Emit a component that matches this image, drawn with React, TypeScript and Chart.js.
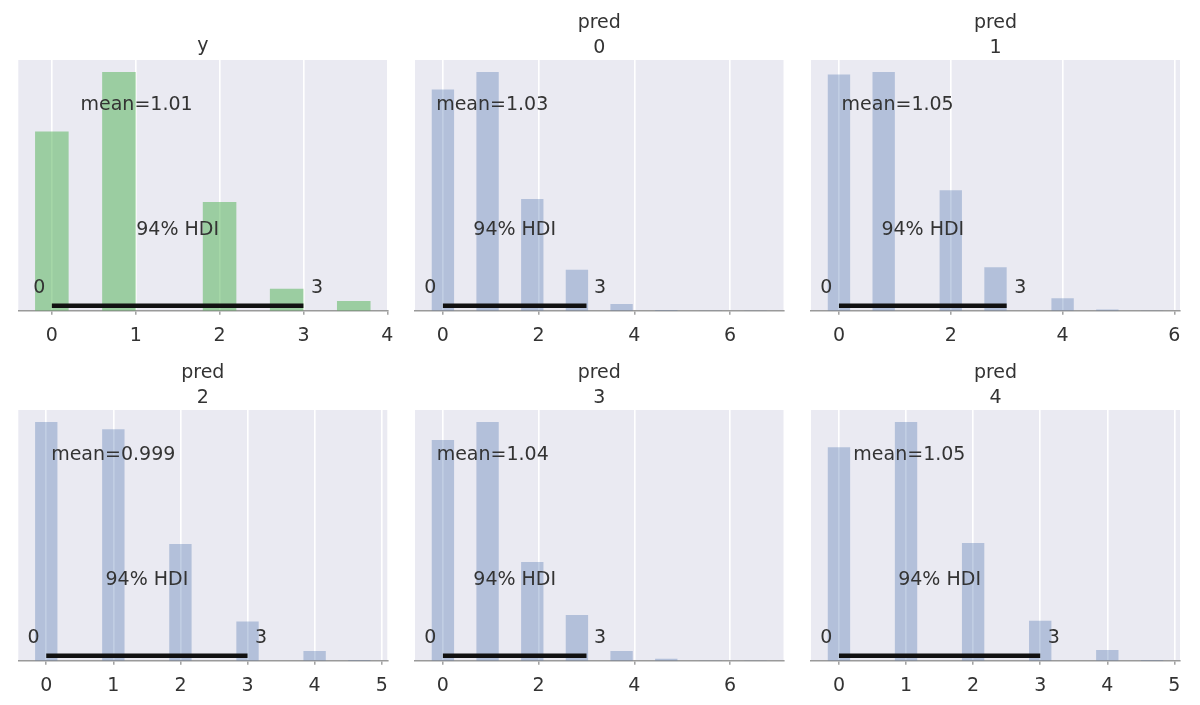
import React, { useEffect, useRef } from "react";
import { Chart, registerables } from "chart.js";

Chart.register(...registerables);

// ---------- data ----------
// bin positions (left edge of each populated histogram bin, drawn align="left") and relative heights
const yCenters = [0, 0.8, 2.0, 2.8, 3.6];
const yHeights = [0.751, 1.0, 0.455, 0.092, 0.041];
const yBinWidth = 0.4;

const pred0Centers = [0, 0.933, 1.867, 2.8, 3.733, 4.667, 5.6, 6.533];
const pred0Heights = [0.926, 1.0, 0.468, 0.171, 0.028, 0.003, 0.001, 0.0005];
const pred0BinWidth = 0.4667;

const pred1Centers = [0, 0.8, 2.0, 2.8, 4.0, 4.8, 5.6];
const pred1Heights = [0.989, 1.0, 0.505, 0.182, 0.052, 0.005, 0.001];
const pred1BinWidth = 0.4;

const pred2Centers = [0, 1, 2, 3, 4, 4.667];
const pred2Heights = [1.0, 0.969, 0.489, 0.164, 0.041, 0.003];
const pred2BinWidth = 0.3333;

const pred3Centers = [0, 0.933, 1.867, 2.8, 3.733, 4.667, 5.6, 6.533];
const pred3Heights = [0.924, 1.0, 0.413, 0.191, 0.041, 0.008, 0.001, 0.0005];
const pred3BinWidth = 0.4667;

const pred4Centers = [0, 1, 2, 3, 4, 4.667];
const pred4Heights = [0.894, 1.0, 0.493, 0.167, 0.045, 0.003];
const pred4BinWidth = 0.3333;

const titles = [["y"], ["pred", "0"], ["pred", "1"], ["pred", "2"], ["pred", "3"], ["pred", "4"]];
const meanValues = [1.01, 1.03, 1.05, 0.999, 1.04, 1.05];
const meanLabels = ["mean=1.01", "mean=1.03", "mean=1.05", "mean=0.999", "mean=1.04", "mean=1.05"];
const hdiLow = [0, 0, 0, 0, 0, 0];
const hdiHigh = [3, 3, 3, 3, 3, 3];
const hdiLabel = "94% HDI";
const tickSteps = [1, 2, 2, 1, 2, 1];

// ---------- style ----------
const FONT = '"DejaVu Sans", Verdana, sans-serif';
const TEXT_SIZE = 19;
const TEXT_COLOR = "#333333";
const BG = "#EAEAF2";
const AXIS_COLOR = "#9a9a9a";
const GREEN = "rgba(76,175,80,0.5)";
const BLUE = "rgba(76,114,176,0.35)";

// ---------- layout (page pixels) ----------
const colLeft = [0, 395, 795];
const colRight = [420, 820, 1200];
const areaLeft = [18.3, 415, 811];
const areaRight = [387.3, 783.5, 1180];
const rowTop = [0, 352];
const rowBottom = [352, 705];
const areaTop = [60, 410];
const areaBottom = [310.7, 660.7];
const AXIS_H = 36;

type Panel = {
  title: string[];
  centers: number[];
  heights: number[];
  binWidth: number;
  mean: number;
  meanLabel: string;
  hdi: number[];
  step: number;
  color: string;
};

const panels: Panel[] = [
  [yCenters, yHeights, yBinWidth],
  [pred0Centers, pred0Heights, pred0BinWidth],
  [pred1Centers, pred1Heights, pred1BinWidth],
  [pred2Centers, pred2Heights, pred2BinWidth],
  [pred3Centers, pred3Heights, pred3BinWidth],
  [pred4Centers, pred4Heights, pred4BinWidth],
].map((d, i) => ({
  title: titles[i],
  centers: d[0] as number[],
  heights: d[1] as number[],
  binWidth: d[2] as number,
  mean: meanValues[i],
  meanLabel: meanLabels[i],
  hdi: [hdiLow[i], hdiHigh[i]],
  step: tickSteps[i],
  color: i === 0 ? GREEN : BLUE,
}));

const bgPlugin = {
  id: "bgFill",
  beforeDraw(chart: any) {
    const { ctx, chartArea } = chart;
    ctx.save();
    ctx.fillStyle = BG;
    ctx.fillRect(chartArea.left, chartArea.top, chartArea.right - chartArea.left, chartArea.bottom - chartArea.top);
    ctx.restore();
  },
};

function makeTextPlugin(p: Panel, yTop: number) {
  return {
    id: "arvizText",
    afterDatasetsDraw(chart: any) {
      const { ctx, scales } = chart;
      const xs = scales.x;
      const ys = scales.y;
      ctx.save();
      ctx.font = `${TEXT_SIZE}px ${FONT}`;
      ctx.fillStyle = TEXT_COLOR;
      ctx.textBaseline = "alphabetic";
      // point estimate
      ctx.textAlign = "center";
      ctx.fillText(p.meanLabel, xs.getPixelForValue(p.mean), ys.getPixelForValue(yTop * 0.8));
      // hdi label
      ctx.fillText(hdiLabel, xs.getPixelForValue((p.hdi[0] + p.hdi[1]) / 2), ys.getPixelForValue(yTop * 0.3));
      // hdi endpoints
      const sp = ctx.measureText(" ").width;
      ctx.textAlign = "right";
      ctx.fillText(String(p.hdi[0]), xs.getPixelForValue(p.hdi[0]) - sp - 0.5, ys.getPixelForValue(yTop * 0.07));
      ctx.textAlign = "left";
      ctx.fillText(String(p.hdi[1]), xs.getPixelForValue(p.hdi[1]) + sp + 1.5, ys.getPixelForValue(yTop * 0.07));
      ctx.restore();
    },
    afterDraw(chart: any) {
      const { ctx, chartArea } = chart;
      ctx.save();
      ctx.font = `${TEXT_SIZE}px ${FONT}`;
      ctx.fillStyle = TEXT_COLOR;
      ctx.textAlign = "center";
      ctx.textBaseline = "alphabetic";
      const cx = (chartArea.left + chartArea.right) / 2;
      const n = p.title.length;
      const lastBase = n > 1 ? chartArea.top - 6.7 : chartArea.top - 9.5;
      for (let i = 0; i < n; i++) {
        ctx.fillText(p.title[i], cx, lastBase - (n - 1 - i) * 25);
      }
      ctx.restore();
    },
  };
}

function buildConfig(p: Panel, idx: number): any {
  const col = idx % 3;
  const row = Math.floor(idx / 3);
  const lo = Math.min(...p.centers) - p.binWidth / 2;
  const hi = Math.max(...p.centers) + p.binWidth / 2;
  const pad = 0.05 * (hi - lo);
  const yTop = Math.max(...p.heights) * 1.05;
  let minSpacing = p.step;
  const sorted = [...p.centers].sort((a, b) => a - b);
  for (let i = 1; i < sorted.length; i++) minSpacing = Math.min(minSpacing, sorted[i] - sorted[i - 1]);
  const barPct = p.binWidth / minSpacing;

  return {
    type: "bar",
    data: {
      datasets: [
        {
          type: "line",
          data: [
            { x: p.hdi[0], y: yTop * 0.02 },
            { x: p.hdi[1], y: yTop * 0.02 },
          ],
          borderColor: "#111111",
          borderWidth: 4.5,
          borderCapStyle: "butt",
          pointRadius: 0,
          fill: false,
          order: 0,
        },
        {
          type: "bar",
          data: p.centers.map((c, i) => ({ x: c, y: p.heights[i] })),
          backgroundColor: p.color,
          borderWidth: 0,
          barPercentage: barPct,
          categoryPercentage: 1,
          order: 1,
        },
      ],
    },
    options: {
      animation: false,
      responsive: false,
      maintainAspectRatio: false,
      events: [],
      layout: {
        padding: {
          left: areaLeft[col] - colLeft[col],
          right: colRight[col] - areaRight[col],
          top: areaTop[row] - rowTop[row],
          bottom: rowBottom[row] - areaBottom[row] - AXIS_H,
        },
      },
      plugins: {
        legend: { display: false },
        tooltip: { enabled: false },
        title: { display: false },
      },
      scales: {
        x: {
          type: "linear",
          min: lo - pad,
          max: hi + pad,
          offset: false,
          afterFit: (s: any) => {
            s.height = AXIS_H;
          },
          grid: {
            offset: false,
            color: "#ffffff",
            lineWidth: 1.6,
            drawTicks: true,
            tickLength: 4,
            tickColor: AXIS_COLOR,
            tickWidth: 1.4,
          },
          border: { display: true, color: AXIS_COLOR, width: 1.6 },
          ticks: {
            stepSize: p.step,
            includeBounds: false,
            autoSkip: false,
            maxRotation: 0,
            minRotation: 0,
            padding: 10,
            color: TEXT_COLOR,
            font: { family: FONT, size: TEXT_SIZE },
          },
        },
        y: { display: false, min: 0, max: yTop },
      },
    },
    plugins: [bgPlugin, makeTextPlugin(p, yTop)],
  };
}

export default function App() {
  const refs = useRef<(HTMLCanvasElement | null)[]>([]);
  useEffect(() => {
    const charts = panels.map((p, i) => new Chart(refs.current[i] as HTMLCanvasElement, buildConfig(p, i)));
    return () => charts.forEach((c) => c.destroy());
  }, []);
  return (
    <div style={{ position: "absolute", left: 0, top: 0, width: 1200, height: 705, background: "#ffffff" }}>
      {panels.map((_, i) => {
        const col = i % 3;
        const row = Math.floor(i / 3);
        const w = colRight[col] - colLeft[col];
        const h = rowBottom[row] - rowTop[row];
        return (
          <canvas
            key={i}
            ref={(el) => {
              refs.current[i] = el;
            }}
            width={w}
            height={h}
            style={{ position: "absolute", left: colLeft[col], top: rowTop[row], width: w, height: h }}
          />
        );
      })}
    </div>
  );
}
